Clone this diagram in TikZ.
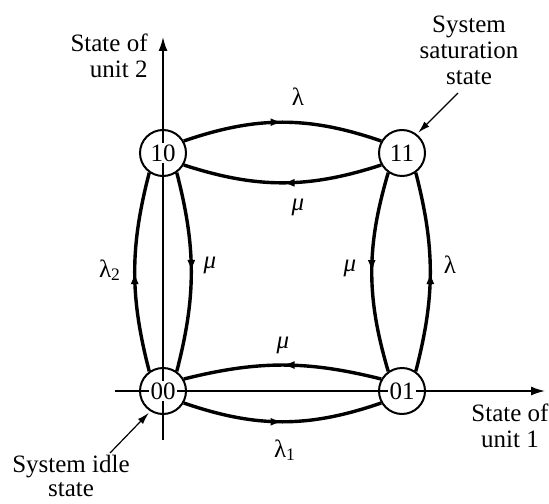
\documentclass[tikz,border=0pt]{standalone}
\usepackage{fontspec}
\setmainfont{Liberation Serif}
\usetikzlibrary{arrows.meta,decorations.markings}
\begin{document}
\begin{tikzpicture}[x=0.5pt,y=0.5pt,
  state/.style={circle,draw,line width=1pt,minimum size=23pt,inner sep=0pt},
  num/.style={fill=white,inner sep=0.6pt,font=\fontsize{12.5}{13}\selectfont},
  txt/.style={font=\fontsize{12.5}{13}\selectfont,align=center,inner sep=0pt},
  greek/.style={font=\fontsize{12.5}{13}\selectfont,inner sep=0pt},
  axisarrow/.style={line width=0.8pt,-{Latex[length=7pt,width=4.5pt]}},
  trans/.style={line width=1.7pt,postaction={decorate},
    decoration={markings,mark=at position 0.5 with {\arrow{Latex[length=6pt,width=4pt]}}}},
  ptr/.style={line width=0.6pt,-{Latex[length=6pt,width=3.5pt]}}
]
\useasboundingbox (0,0) rectangle (549,503);
% axes
\coordinate (ybot) at (163,63);
\coordinate (ytop) at (163,466);
\coordinate (xleft) at (115,112);
\coordinate (xright) at (545,112);
\draw[axisarrow] (ybot) -- (ytop);
\draw[axisarrow] (xleft) -- (xright);
% states
\node[state] (n10) at (163,350) {};
\node[state] (n11) at (402,350) {};
\node[state] (n00) at (163,112) {};
\node[state] (n01) at (402,112) {};
\node[num] (t10) at (n10) {10};
\node[num] (t11) at (n11) {11};
\node[num] (t00) at (n00) {00};
\node[num] (t01) at (n01) {01};
% transitions
\draw[trans] (n10.30) to[out=19,in=161] (n11.150);
\draw[trans] (n11.210) to[out=198,in=-18] (n10.-30);
\draw[trans] (n00.125) to[out=104.5,in=255.5] (n10.235);
\draw[trans] (n10.305) to[out=284.5,in=75.5] (n00.55);
\draw[trans] (n11.235) to[out=253.5,in=106.5] (n01.125);
\draw[trans] (n01.55) to[out=75.5,in=284.5] (n11.305);
\draw[trans] (n01.150) to[out=166,in=14] (n00.30);
\draw[trans] (n00.-30) to[out=-19,in=199] (n01.210);
% rate labels
\node[greek] (la) at (298,406) {λ};
\node[greek] (lb) at (298,296) {\itshape μ};
\node[greek] (lc) at (110,233) {λ\textsubscript{2}};
\node[greek] (ld) at (210,238) {\itshape μ};
\node[greek] (le) at (350,235) {\itshape μ};
\node[greek] (lf) at (450,238) {λ};
\node[greek] (lg) at (283,158) {\itshape μ};
\node[greek] (lh) at (285,53) {λ\textsubscript{1}};
% axis labels
\node[txt,align=right,anchor=east] (ax2) at (148,447) {State of\\unit 2};
\node[txt] (ax1) at (510,77) {State of\\unit 1};
% annotations
\node[txt] (sat) at (469,453) {System\\saturation\\state};
\node[txt,font=\fontsize{12.5}{12}\selectfont] (idle) at (71,27) {System idle\\state};
\coordinate (satp) at (458,410);
\coordinate (idlep) at (110,50);
\draw[ptr,shorten >=1pt] (satp) -- (n11.52);
\draw[ptr,shorten >=1pt] (idlep) -- (n00.238);
\end{tikzpicture}
\end{document}
